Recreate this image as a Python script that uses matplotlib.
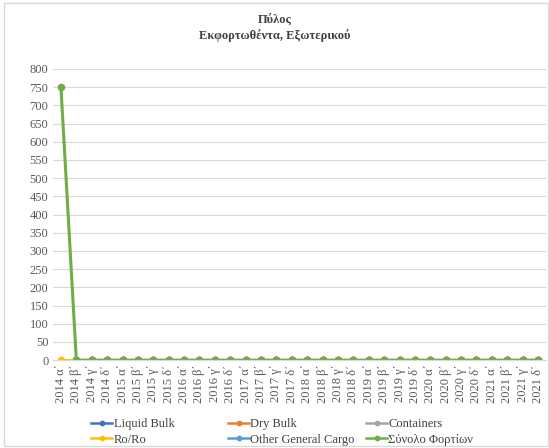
import numpy as np
import matplotlib.pyplot as plt
from matplotlib.patches import Rectangle

plt.rcParams['font.family'] = ['Liberation Serif', 'DejaVu Serif']

# Κατηγορίες (τρίμηνα)
years = ["2014", "2015", "2016", "2017", "2018", "2019", "2020", "2021"]
quarters = ["α΄", "β΄", "γ΄", "δ΄"]
categories = [f"{y} {q}" for y in years for q in quarters]
n = len(categories)

# Τιμές σειρών
liquid_bulk = [np.nan] + [0] * (n - 1)
dry_bulk = [np.nan] + [0] * (n - 1)
containers = [np.nan] + [0] * (n - 1)
ro_ro = [0] * n
other_general = [np.nan] + [0] * (n - 1)
total = [750] + [0] * (n - 1)

series = [
    ("Liquid Bulk", liquid_bulk, "#4472C4"),
    ("Dry Bulk", dry_bulk, "#ED7D31"),
    ("Containers", containers, "#A5A5A5"),
    ("Ro/Ro", ro_ro, "#FFC000"),
    ("Other General Cargo", other_general, "#5B9BD5"),
    ("Σύνολο Φορτίων", total, "#70AD47"),
]

W, H = 549, 448
fig = plt.figure(figsize=(W / 100, H / 100), dpi=100)
ax = fig.add_axes([0.097, 0.196, 0.897, 0.65])

x = np.arange(n)
lines = []
for name, vals, col in series:
    ln, = ax.plot(x, vals, color=col, lw=2.2, marker='o', ms=4.5, label=name)
    lines.append(ln)

ax.set_xlim(-0.5, n - 0.5)
ax.set_ylim(0, 800)
ax.set_yticks(np.arange(0, 801, 50))
ax.set_xticks(x)
ax.set_xticklabels(categories, rotation=90, fontsize=9, color="#595959")
ax.tick_params(axis='y', labelsize=9, labelcolor="#595959", length=0)
ax.tick_params(axis='x', length=0, pad=3)
ax.grid(axis='y', color="#D9D9D9", lw=0.8)
ax.set_axisbelow(True)
for s in ["top", "right", "left"]:
    ax.spines[s].set_visible(False)
ax.spines["bottom"].set_color("#D9D9D9")

fig.text(0.5, 0.953, "Πύλος", ha='center', va='center', fontsize=9,
         fontweight='bold', color="#404040")
fig.text(0.5, 0.921, "Εκφορτωθέντα, Εξωτερικού", ha='center', va='center',
         fontsize=9, fontweight='bold', color="#404040")

# υπόμνημα: 3 στήλες σε σταθερές θέσεις, όπως στο Excel
col_x = [91, 228, 366]
for c in range(3):
    hs = [lines[c], lines[c + 3]]
    labs = [series[c][0], series[c + 3][0]]
    leg = fig.legend(hs, labs, loc='upper left',
                     bbox_to_anchor=(col_x[c] / W, 1 - 418 / H),
                     frameon=False, fontsize=9, handlelength=1.7,
                     labelspacing=0.3, handletextpad=0.1, borderpad=0,
                     borderaxespad=0, labelcolor="#404040", markerscale=0.7)
    for h in leg.legend_handles:
        h.set_linewidth(1.8)

fig.patches.append(Rectangle((0.008, 0.004), 0.99, 0.99, transform=fig.transFigure,
                             fill=False, edgecolor="#D9D9D9", lw=1))

fig.savefig("out.png", dpi=100)
